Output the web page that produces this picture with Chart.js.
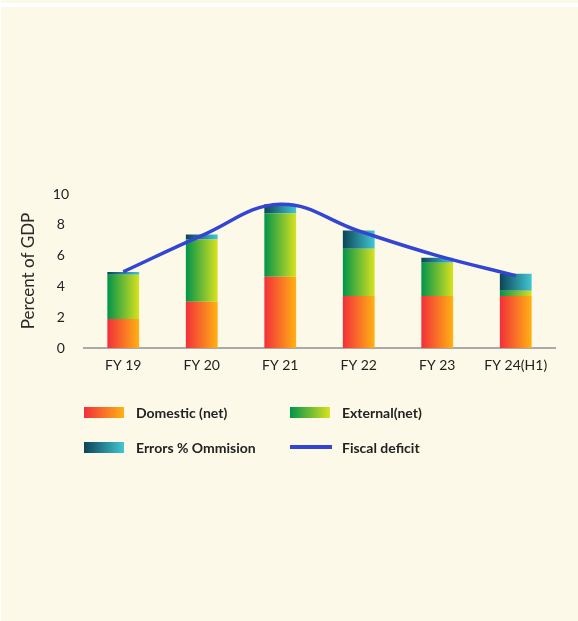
<!DOCTYPE html>
<html>
<head>
<meta charset="utf-8">
<script src="https://cdn.jsdelivr.net/npm/chart.js@4/dist/chart.umd.min.js"></script>
<style>
  html, body { margin: 0; padding: 0; }
  body { width: 578px; height: 621px; background: #fdf9e8; position: relative; overflow: hidden; font-family: Lato, "Open Sans", sans-serif; }
  .rule-top { position: absolute; left: 0; top: 3px; width: 578px; height: 4px; background: #ffffff; }
  .rule-left { position: absolute; left: 0; top: 0; width: 1px; height: 621px; background: #ffffff; }
  #wrap { position: absolute; left: 0; top: 0; width: 578px; height: 621px; }
  #legend { position: absolute; left: 84px; top: 400px; width: 420px; }
  .item { position: absolute; display: flex; align-items: center; height: 24px; font: 700 14px Lato, sans-serif; color: #222; }
  .sw { width: 40px; height: 11px; margin-right: 12px; }
  .sw.line { height: 4px; width: 42px; margin-right: 10px; }
</style>
</head>
<body>
<div class="rule-top"></div>
<div class="rule-left"></div>
<div id="wrap"><canvas id="c" width="578" height="621"></canvas></div>
<div id="legend"></div>
<script>
// Financing of the fiscal deficit, percent of GDP
const years = ['FY 19', 'FY 20', 'FY 21', 'FY 22', 'FY 23', 'FY 24(H1)'];
const domestic = [1.88, 3.00, 4.62, 3.38, 3.38, 3.38];
const external = [2.87, 4.04, 4.12, 3.07, 2.16, 0.33];
const errors = [0.18, 0.33, 0.59, 1.18, 0.32, 1.11];
const fiscalDeficit = [4.95, 7.30, 9.33, 7.60, 6.00, 4.70];
const yTicks = [0, 2, 4, 6, 8, 10];

const seriesNames = ['Domestic (net)', 'External(net)', 'Errors % Ommision', 'Fiscal deficit'];
const BAR_FRACTION = 0.405;

const domesticStops = ['#f22f3b', '#ffb213'];
const externalStops = ['#00944a', '#d9e21f'];
const errorStops = ['#0b4556', '#43c6d3'];
const lineColor = '#3345d2';

// horizontal gradient across each bar's own width
function barGradient(stops) {
  return (ctx) => {
    const chart = ctx.chart;
    const xs = chart.scales.x;
    if (!chart.chartArea || ctx.type !== 'data' || !xs) return stops[1];
    const cx = xs.getPixelForValue(ctx.dataIndex);
    const half = (xs.width / years.length) * BAR_FRACTION / 2;
    const g = chart.ctx.createLinearGradient(cx - half, 0, cx + half, 0);
    g.addColorStop(0, stops[0]);
    g.addColorStop(1, stops[1]);
    return g;
  };
}

const barCommon = { type: 'bar', barPercentage: BAR_FRACTION, categoryPercentage: 1, borderWidth: 0, order: 1, stack: 'financing' };

const chart = new Chart(document.getElementById('c'), {
  data: {
    labels: years,
    datasets: [
      Object.assign({ label: seriesNames[0], data: domestic, backgroundColor: barGradient(domesticStops) }, barCommon),
      Object.assign({ label: seriesNames[1], data: external, backgroundColor: barGradient(externalStops) }, barCommon),
      Object.assign({ label: seriesNames[2], data: errors, backgroundColor: barGradient(errorStops) }, barCommon),
      {
        type: 'line', label: seriesNames[3], data: fiscalDeficit, stack: 'deficit', order: 0,
        borderColor: lineColor, borderWidth: 3.5, pointRadius: 0, tension: 0.4, fill: false
      }
    ]
  },
  options: {
    responsive: false,
    animation: false,
    layout: { padding: { left: 0, top: 194, right: 23, bottom: 233 } },
    plugins: { legend: { display: false }, tooltip: { enabled: false } },
    scales: {
      x: {
        stacked: true,
        grid: { display: false, drawTicks: false },
        border: { display: true, color: '#aaaaaa', width: 2 },
        ticks: { color: '#222', font: { family: 'Lato', size: 14 }, padding: 9 },
        afterFit: (s) => { s.height = 40; }
      },
      y: {
        stacked: true,
        min: 0, max: 10,
        afterBuildTicks: (s) => { s.ticks = yTicks.map(v => ({ value: v })); },
        grid: { display: false, drawTicks: false },
        border: { display: false },
        ticks: { color: '#222', font: { family: 'Lato', size: 14 }, padding: 15, crossAlign: 'center' },
        title: { display: true, text: 'Percent of GDP', color: '#2a2a2a', font: { family: 'Lato', size: 17, weight: 400 }, padding: { top: 18, bottom: 0 } },
        afterFit: (s) => { s.width = 84; }
      }
    }
  }
});

// legend in a two-column grid, built from the chart's datasets
const legendSwatches = [
  `linear-gradient(to right, ${domesticStops[0]}, ${domesticStops[1]})`,
  `linear-gradient(to right, ${externalStops[0]}, ${externalStops[1]})`,
  `linear-gradient(to right, ${errorStops[0]}, ${errorStops[1]})`,
  lineColor
];
const legend = document.getElementById('legend');
chart.data.datasets.forEach((ds, i) => {
  const item = document.createElement('div');
  item.className = 'item';
  item.style.left = (i % 2 === 0 ? 0 : 206) + 'px';
  item.style.top = (i < 2 ? 0 : 35) + 'px';
  const sw = document.createElement('span');
  sw.className = 'sw' + (ds.type === 'line' ? ' line' : '');
  sw.style.background = legendSwatches[i];
  const txt = document.createElement('span');
  txt.textContent = ds.label;
  item.appendChild(sw);
  item.appendChild(txt);
  legend.appendChild(item);
});
</script>
</body>
</html>
